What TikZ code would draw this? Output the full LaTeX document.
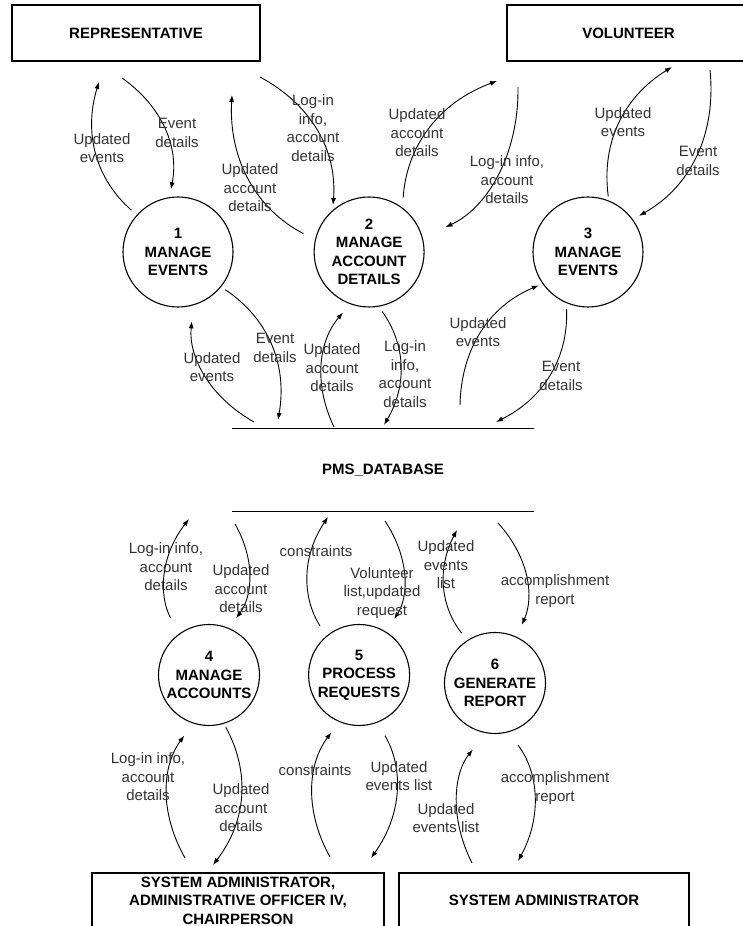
\documentclass[tikz,border=0pt]{standalone}
\usepackage{fontspec}
\setmainfont{Liberation Sans}
\usetikzlibrary{arrows.meta,positioning}

\begin{document}
\begin{tikzpicture}[x=1pt,y=1pt,font=\fontsize{15}{18.5}\selectfont,
                    entity/.style={draw,line width=1.1pt,align=center,inner sep=0pt,
                      minimum height=56pt,font=\fontsize{15}{18.5}\selectfont\bfseries},
                    process/.style={circle,draw,line width=1.1pt,align=center,inner sep=0pt,
                      font=\fontsize{15}{18.5}\selectfont\bfseries},
                    flow/.style={draw,line width=0.9pt,-{Latex[length=7pt,width=5pt]},bend left=33},
                    lbl/.style={align=center,inner sep=0pt,text=black!80}]

  \useasboundingbox (0,0) rectangle (743,926);

  % external entities
  \node[entity,minimum width=248pt] (rep) at (136,893) {REPRESENTATIVE};
  \node[entity,minimum width=243pt] (vol) at (628.5,893) {VOLUNTEER};
  \node[entity,minimum width=292pt,minimum height=55pt] (sa1) at (238,25.5)
    {SYSTEM ADMINISTRATOR,\\ADMINISTRATIVE OFFICER IV,\\CHAIRPERSON};
  \node[entity,minimum width=290pt,minimum height=55pt] (sa2) at (544,25.5) {SYSTEM ADMINISTRATOR};

  % processes
  \node[process,minimum size=110pt] (p1) at (178,674) {1\\MANAGE\\EVENTS};
  \node[process,minimum size=110pt] (p2) [right=80pt of p1] {2\\MANAGE\\ACCOUNT\\DETAILS};
  \node[process,minimum size=110pt] (p3) at (588,674) {3\\MANAGE\\EVENTS};
  \node[process,minimum size=101pt] (p4) at (209,251) {4\\MANAGE\\ACCOUNTS};
  \node[process,minimum size=101pt] (p5) [right=48pt of p4] {5\\PROCESS\\REQUESTS};
  \node[process,minimum size=101pt] (p6) at (495,243) {6\\GENERATE\\REPORT};

  % data store
  \node[minimum width=302pt,minimum height=82pt,font=\fontsize{15}{18.5}\selectfont\bfseries] (db) at (383,456) {PMS\_DATABASE};
  \draw[line width=1.1pt] (db.north west) -- (db.north east) (db.south west) -- (db.south east);

  % free ends
  \coordinate (r1) at (99,844);   \coordinate (r2) at (122,848);
  \coordinate (r3) at (260,849);  \coordinate (r4) at (232,831);
  \coordinate (v1) at (497,845);  \coordinate (v2) at (518,839);
  \coordinate (v3) at (672,859);  \coordinate (v4) at (710,856);
  \coordinate (d1) at (278,506);  \coordinate (d2) at (254,504);
  \coordinate (d3) at (334,499);  \coordinate (d4) at (384,501);
  \coordinate (d5) at (460,521);  \coordinate (d6) at (496,504);
  \coordinate (d7) at (189,407);  \coordinate (d8) at (235,402);
  \coordinate (d9) at (328,409);  \coordinate (d10) at (385,405);
  \coordinate (d11) at (457,396); \coordinate (d12) at (498,403);
  \coordinate (s1) at (185,68);   \coordinate (s2) at (213,61);
  \coordinate (s3) at (330,69);   \coordinate (s4) at (371,68);
  \coordinate (s5) at (472,63);   \coordinate (s6) at (518,65);

  \path[every edge/.style={flow}]
    (p1.138) edge[shorten <=7pt] (r1)
    (r2) edge[shorten >=8pt] (p1.99)
    (r3) edge[shorten >=5pt] (p2.131)
    (p2.167) edge[shorten <=13pt] (r4)
    (p2.53) edge[shorten <=10pt] (v1)
    (v2) edge[shorten >=25pt] (p2.15)
    (p3.68) edge[shorten <=4pt] (v3)
    (v4) edge[shorten >=7pt] (p3.36)
    (p1.-39) edge[shorten <=5pt] (d1)
    (d2) edge[shorten >=16pt] (p1.-74)
    (d3) edge[shorten >=11pt] (p2.-110)
    (p2.-80) edge[shorten <=6pt] (d4)
    (d5) edge[shorten >=4pt] (p3.-145)
    (p3.-113) edge[shorten <=6pt] (d6)
    (p4.126) edge[shorten <=18pt] (d7)
    (d8) edge[shorten >=12pt] (p4.67)
    (p5.130) edge[shorten <=12pt] (d9)
    (d10) edge[shorten >=15pt] (p5.58)
    (p6.123) edge[shorten <=9pt] (d11)
    (d12) edge[shorten >=13pt] (p6.65)
    (s1) edge[shorten >=15pt] (p4.-108)
    (p4.-73) edge[shorten <=4pt] (s2)
    (s3) edge[shorten >=13pt] (p5.-113)
    (p5.-69) edge[shorten <=15pt] (s4)
    (s5) edge[shorten >=21pt] (p6.-100)
    (p6.-75) edge[shorten <=16pt] (s6);

  % flow labels
  \node[lbl] (l1) at (102,778) {Updated\\events};
  \node[lbl] (l2) at (177,793) {Event\\details};
  \node[lbl] (l3) at (313,798) {Log-in\\info,\\account\\details};
  \node[lbl] (l4) at (250,738) {Updated\\account\\details};
  \node[lbl] (l5) at (417,793) {Updated\\account\\details};
  \node[lbl] (l6) at (507,746) {Log-in info,\\account\\details};
  \node[lbl] (l7) at (623,804) {Updated\\events};
  \node[lbl] (l8) at (698,765) {Event\\details};
  \node[lbl] (l9) at (212,559) {Updated\\events};
  \node[lbl] (l10) at (275,578) {Event\\details};
  \node[lbl] (l11) at (332,558) {Updated\\account\\details};
  \node[lbl] (l12) at (405,552) {Log-in\\info,\\account\\details};
  \node[lbl] (l13) at (478,594) {Updated\\events};
  \node[lbl] (l14) at (561,550) {Event\\details};
  \node[lbl] (l15) at (166,359) {Log-in info,\\account\\details};
  \node[lbl] (l16) at (241,337) {Updated\\account\\details};
  \node[lbl] (l17) at (316,375) {constraints};
  \node[lbl] (l18) at (382,333) {Volunteer\\list,updated\\request};
  \node[lbl] (l19) at (446,361) {Updated\\events\\list};
  \node[lbl] (l20) at (555,335) {accomplishment\\report};
  \node[lbl] (l21) at (148,149) {Log-in info,\\account\\details};
  \node[lbl] (l22) at (241,118) {Updated\\account\\details};
  \node[lbl] (l23) at (315,156) {constraints};
  \node[lbl] (l24) at (399,150) {Updated\\events list};
  \node[lbl] (l25) at (446,108) {Updated\\events list};
  \node[lbl] (l26) at (555,138) {accomplishment\\report};

\end{tikzpicture}
\end{document}
